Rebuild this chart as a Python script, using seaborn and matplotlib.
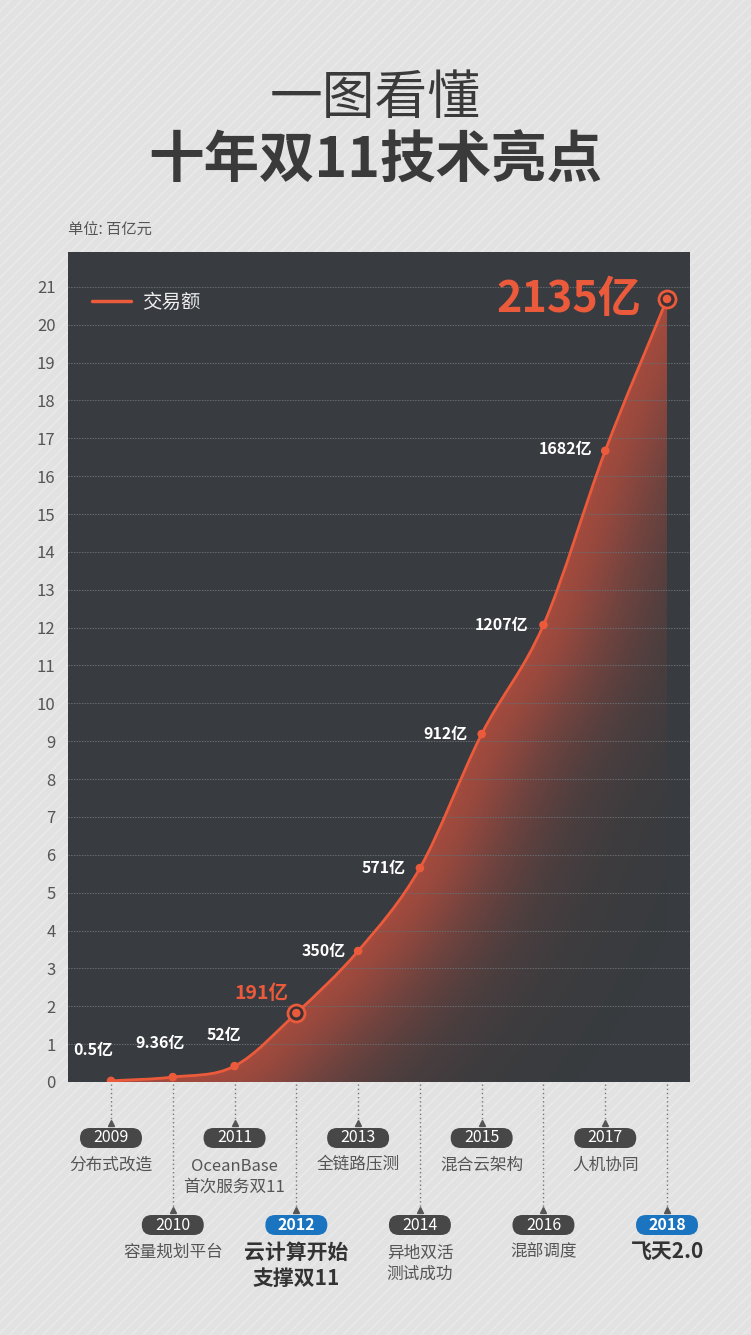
import numpy as np
import pandas as pd
import seaborn as sns
import matplotlib.pyplot as plt
import matplotlib.transforms as mtransforms
from matplotlib.path import Path
from matplotlib.patches import PathPatch, FancyBboxPatch, Rectangle
from matplotlib.lines import Line2D

# data (百亿元)
years = [2009, 2010, 2011, 2012, 2013, 2014, 2015, 2016, 2017, 2018]
values = [0.03, 0.13, 0.42, 1.82, 3.46, 5.65, 9.19, 12.07, 16.67, 20.68]
value_labels = ['0.5亿', '9.36亿', '52亿', '191亿', '350亿', '571亿',
                '912亿', '1207亿', '1682亿', '2135亿']
milestones = ['分布式改造', '容量规划平台', 'OceanBase\n首次服务双11',
              '云计算开始\n支撑双11', '全链路压测', '异地双活\n测试成功',
              '混合云架构', '混部调度', '人机协同', '飞天2.0']
highlight_years = [2012, 2018]
y_ticks = list(range(0, 22))

ORANGE = '#ec5a3c'
PANEL = '#383b3f'
BG = '#e2e2e2'

sns.set_theme(style='dark')
plt.rcParams['font.family'] = ['Noto Sans CJK SC', 'DejaVu Sans']

fig = plt.figure(figsize=(7.51, 13.35), dpi=100)
fig.patch.set_facecolor(BG)
fig.patches.append(Rectangle((0, 0), 1, 1, transform=fig.transFigure,
                             facecolor=BG, edgecolor='#eaeaea', hatch='///',
                             linewidth=0, zorder=-10))

ax = fig.add_axes([68 / 751, 253 / 1335, 622 / 751, 830 / 1335])
ax.set_facecolor(PANEL)
ax.set_xlim(2008.304, 2018.372)
ax.set_ylim(0, 21.92)
for s in ax.spines.values():
    s.set_visible(False)
ax.set_xticks([])
ax.set_yticks(y_ticks)
ax.tick_params(axis='y', length=0, pad=9, labelsize=12, labelcolor='#555555')
ax.yaxis.grid(True, color='#6a6d71', linestyle=(0, (1.2, 1.2)), linewidth=0.8)
ax.set_axisbelow('line')

# smooth curve (monotone cubic tangents -> bezier)
x = np.array(years, dtype=float)
y = np.array(values, dtype=float)
h = np.diff(x)
d = np.diff(y) / h
m = np.empty_like(y)
m[0], m[-1] = d[0], d[-1]
m[1:-1] = (d[:-1] + d[1:]) / 2
verts = [(x[0], y[0])]
codes = [Path.MOVETO]
for i in range(len(x) - 1):
    verts += [(x[i] + h[i] / 3, y[i] + m[i] * h[i] / 3),
              (x[i + 1] - h[i] / 3, y[i + 1] - m[i + 1] * h[i] / 3),
              (x[i + 1], y[i + 1])]
    codes += [Path.CURVE4] * 3
curve = Path(verts, codes)
area = Path(verts + [(x[-1], 0), (x[0], 0), (x[0], 0)],
            codes + [Path.LINETO, Path.LINETO, Path.CLOSEPOLY])

area_patch = PathPatch(area, facecolor='none', edgecolor='none')
ax.add_patch(area_patch)

# gradient fill: fades with distance from the curve
poly = curve.to_polygons(transform=ax.transData, closed_only=False)[0]
dense = [poly[0]]
for a, b in zip(poly[:-1], poly[1:]):
    for t in np.linspace(0, 1, 6)[1:]:
        dense.append(a + (b - a) * t)
dense = np.array(dense)
gx, gy = np.meshgrid(np.linspace(x[0], x[-1], 220), np.linspace(0, 21, 320))
pts = ax.transData.transform(np.column_stack([gx.ravel(), gy.ravel()]))
dist = np.full(len(pts), np.inf)
for vx, vy in dense:
    dist = np.minimum(dist, np.hypot(pts[:, 0] - vx, pts[:, 1] - vy))
alpha = 0.62 * np.exp(-(dist / 85) ** 1.5).reshape(gx.shape)
rgba = np.zeros(gx.shape + (4,))
rgba[..., 0], rgba[..., 1], rgba[..., 2] = 0.90, 0.33, 0.24
rgba[..., 3] = alpha
im = ax.imshow(rgba, extent=(x[0], x[-1], 0, 21), origin='lower',
               aspect='auto', interpolation='bilinear', zorder=1)
im.set_clip_path(area_patch)

ax.add_patch(PathPatch(curve, facecolor='none', edgecolor=ORANGE, lw=2, zorder=3))

df = pd.DataFrame({'year': years, 'value': values})
hl = df[df['year'].isin(highlight_years)]
sns.scatterplot(data=hl, x='year', y='value', s=150, color='#3a3234',
                edgecolor=ORANGE, linewidth=2, zorder=4, ax=ax, legend=False)
sns.scatterplot(data=df, x='year', y='value', s=38, color=ORANGE,
                edgecolor='none', zorder=5, ax=ax, legend=False)
ax.set_xlabel('')
ax.set_ylabel('')
ax.set_xlim(2008.304, 2018.372)
ax.set_ylim(0, 21.92)

# value labels: (dx, dy, ha, size, colour) in pixels
label_style = [(-18, 31, 'center', 11.5, 'white'), (-13, 34, 'center', 11.5, 'white'),
               (-11, 31, 'center', 11.5, 'white'), (-35, 20, 'center', 14, ORANGE),
               (-12, 0, 'right', 11.5, 'white'), (-14, 0, 'right', 11.5, 'white'),
               (-14, 0, 'right', 11.5, 'white'), (-15, 0, 'right', 11.5, 'white'),
               (-13, 2, 'right', 11.5, 'white'), (-26, 0, 'right', 31, ORANGE)]
for yr, v, lab, (dx, dy, ha, fs, c) in zip(years, values, value_labels, label_style):
    ax.annotate(lab, (yr, v), xytext=(dx, dy), textcoords='offset pixels',
                ha=ha, va='center', fontsize=fs, color=c, fontweight='bold',
                zorder=6)

ax.legend(handles=[Line2D([], [], color=ORANGE, lw=2.5)], labels=['交易额'],
          loc='center left', bbox_to_anchor=(24 / 622, 1 - 50 / 830),
          borderaxespad=0, borderpad=0, frameon=False,
          fontsize=14, labelcolor='#eeeeee', handlelength=2.0, handletextpad=0.55)

# timeline below the axis
xaxis_tr = ax.get_xaxis_transform()
for i, (yr, text) in enumerate(zip(years, milestones)):
    anchor = mtransforms.ScaledTranslation(yr, 0, xaxis_tr)
    tr = mtransforms.Affine2D() + anchor
    drop = 56 if i % 2 == 0 else 143
    fig.add_artist(Line2D([0, 0], [-2, -(drop - 13)], transform=tr,
                          color='#777777', lw=1, linestyle=(0, (1, 2))))
    fig.add_artist(Line2D([0], [-(drop - 15)], transform=tr, marker='^',
                          markersize=5, color='#555555', linestyle='none'))
    hot = yr in highlight_years
    fig.add_artist(FancyBboxPatch((-31, -drop - 10), 62, 20,
                                  boxstyle='round,pad=0,rounding_size=10',
                                  transform=tr, linewidth=0,
                                  facecolor='#1a74bf' if hot else '#474747'))
    fig.text(0, -drop, str(yr), transform=tr, ha='center', va='center',
             fontsize=11.5, color='white', fontweight='bold' if hot else 'normal')
    n = text.count('\n')
    if hot:
        fig.text(0, -drop - 27 - n * 13.5, text, transform=tr, ha='center',
                 va='center', fontsize=15, color='#333333', fontweight='bold',
                 linespacing=1.25)
    else:
        fig.text(0, -drop - 27 - n * 11.5, text, transform=tr, ha='center',
                 va='center', fontsize=12, color='#555555', linespacing=1.3)

fig.text(0.5, 1 - 98 / 1335, '一图看懂', ha='center', va='center',
         fontsize=38, color='#3a3a3a', fontweight='medium')
fig.text(0.5, 1 - 162 / 1335, '十年双11技术亮点', ha='center', va='center',
         fontsize=40, color='#3a3a3a', fontweight='bold')
fig.text(68 / 751, 1 - 230 / 1335, '单位: 百亿元', ha='left', va='center',
         fontsize=11, color='#555555')

plt.savefig('out.png', dpi=100, facecolor=BG)
